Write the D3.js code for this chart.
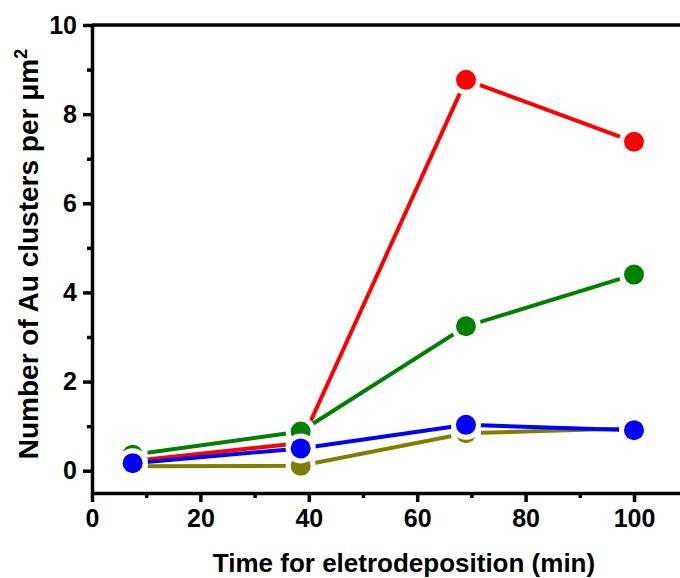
<!DOCTYPE html>
<html lang="en">
<head>
<meta charset="UTF-8">
<title>Au clusters</title>
<style>
  body { margin: 0; background: #fff; }
  svg text { font-family: "Liberation Sans", Arial, sans-serif; font-weight: bold; fill: #000; }
</style>
</head>
<body>
<svg id="chart" width="680" height="578"></svg>
<script src="https://d3js.org/d3.v7.min.js"></script>
<script>
// data
var times = [7.5, 38.5, 69, 100];
var olive = [0.10, 0.11, 0.84, 0.95];
var red   = [0.22, 0.62, 8.77, 7.38];
var green = [0.36, 0.88, 3.24, 4.40];
var blue  = [0.17, 0.50, 1.03, 0.91];
var xTicks = [0, 20, 40, 60, 80, 100];
var yTicks = [0, 2, 4, 6, 8, 10];

var series = [
  {name: "olive", color: "#808000", values: olive},
  {name: "red",   color: "#ff0000", values: red},
  {name: "green", color: "#008000", values: green},
  {name: "blue",  color: "#0000ff", values: blue}
];

var svg = d3.select("#chart"),
  mLeft = 92, mTop = 25, mBottom = 493;

var x = d3.scaleLinear().domain([0, 110]).range([mLeft, mLeft + 110 * 5.42]);
var y = d3.scaleLinear().domain([-0.5, 10]).range([mBottom, mTop]);

// minor ticks
var xMinor = d3.range(10, 120, 20), yMinor = d3.range(1, 10, 2);

svg.append("g").attr("transform", "translate(0," + mBottom + ")")
  .call(d3.axisBottom(x).tickValues(xTicks).tickSize(9).tickPadding(7).tickSizeOuter(0));
svg.append("g").attr("transform", "translate(0," + mBottom + ")")
  .call(d3.axisBottom(x).tickValues(xMinor).tickSize(5).tickFormat("").tickSizeOuter(0))
  .select(".domain").remove();

svg.append("g").attr("transform", "translate(" + mLeft + ",0)")
  .call(d3.axisLeft(y).tickValues(yTicks).tickSize(9).tickPadding(6).tickSizeOuter(0));
svg.append("g").attr("transform", "translate(" + mLeft + ",0)")
  .call(d3.axisLeft(y).tickValues(yMinor).tickSize(5).tickFormat("").tickSizeOuter(0))
  .select(".domain").remove();

svg.selectAll(".domain").attr("stroke", "#000").attr("stroke-width", 3.5);
svg.selectAll(".tick line").attr("stroke", "#000").attr("stroke-width", 3.5);
svg.selectAll(".tick text").style("font-size", "25px")
  .style("font-family", "'Liberation Sans', Arial, sans-serif").style("font-weight", "bold");

// top border line
svg.append("line")
  .attr("x1", mLeft).attr("x2", 680)
  .attr("y1", y(10)).attr("y2", y(10))
  .attr("stroke", "#000").attr("stroke-width", 3.5);

var line = d3.line().x(function (d, i) { return x(times[i]); }).y(function (d) { return y(d); });

series.forEach(function (s) {
  svg.append("path")
    .attr("d", line(s.values))
    .attr("fill", "none")
    .attr("stroke", s.color)
    .attr("stroke-width", 4);
});

series.forEach(function (s) {
  svg.selectAll(null)
    .data(s.values)
    .enter().append("circle")
    .attr("cx", function (d, i) { return x(times[i]); })
    .attr("cy", function (d) { return y(d); })
    .attr("r", 10)
    .attr("fill", s.color)
    .attr("stroke", "#fff")
    .attr("stroke-width", 10)
    .style("paint-order", "stroke");
});

// axis titles
svg.append("text")
  .attr("x", 404).attr("y", 572)
  .attr("text-anchor", "middle")
  .style("font-size", "26px")
  .text("Time for eletrodeposition (min)");

var yt = svg.append("text")
  .attr("transform", "translate(38,254) rotate(-90)")
  .attr("text-anchor", "middle")
  .style("font-size", "28px");
yt.append("tspan").text("Number of Au clusters per μm");
yt.append("tspan").attr("dy", -11).style("font-size", "18px").text("2");
</script>
</body>
</html>
